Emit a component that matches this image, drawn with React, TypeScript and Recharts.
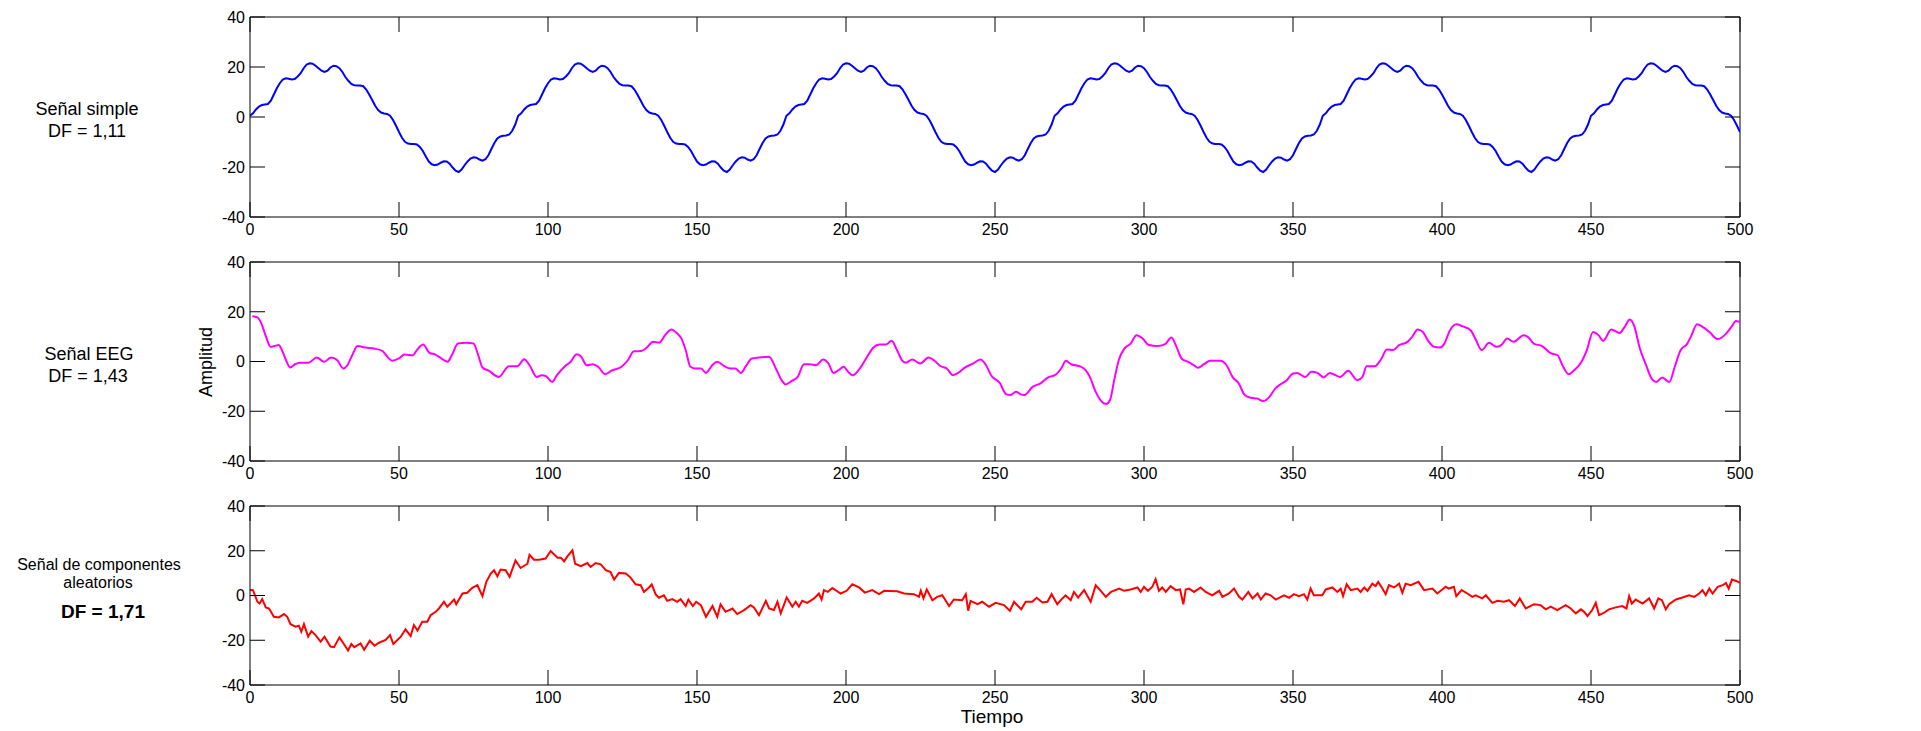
import { LineChart, Line, XAxis, YAxis, ReferenceLine } from 'recharts'

const TIME_TICKS = [0, 50, 100, 150, 200, 250, 300, 350, 400, 450, 500]
const AMP_TICKS = [-40, -20, 0, 20, 40]

// Señal simple: one value per time unit, 0..500 (period of 90 repeats in the picture)
const SIMPLE_SIGNAL = [
  // 0-89
  0.5, 1.5, 3, 4.2, 4.8, 5, 5.2, 6.5, 9, 11.5, 13.5, 15, 15.5, 15.3, 15, 15.2, 16.2, 17.5, 19.5, 21,
  21.5, 21.3, 20.5, 19.5, 18.5, 18, 18.5, 19.8, 20.5, 20.3, 19.5, 18, 16, 14.5, 13.2, 12.7, 12.6, 12.6, 12.3, 11,
  9, 6.8, 4.5, 2.8, 1.8, 1.4, 1.2, 0.5, -1.2, -3.5, -6, -8.3, -9.9, -10.6, -10.8, -10.8, -11, -12, -13.6, -15.8,
  -17.8, -18.9, -19.3, -19, -18.3, -17.7, -17.8, -18.7, -20.2, -21.5, -22, -21, -19.3, -17.8, -16.6, -16.1, -16.3, -17, -17.5, -16.9,
  -15.3, -12.8, -10.4, -8.6, -7.8, -7.5, -7.4, -7, -5.5, -3,
  // 90-179
  0.5, 1.5, 3, 4.2, 4.8, 5, 5.2, 6.5, 9, 11.5, 13.5, 15, 15.5, 15.3, 15, 15.2, 16.2, 17.5, 19.5, 21,
  21.5, 21.3, 20.5, 19.5, 18.5, 18, 18.5, 19.8, 20.5, 20.3, 19.5, 18, 16, 14.5, 13.2, 12.7, 12.6, 12.6, 12.3, 11,
  9, 6.8, 4.5, 2.8, 1.8, 1.4, 1.2, 0.5, -1.2, -3.5, -6, -8.3, -9.9, -10.6, -10.8, -10.8, -11, -12, -13.6, -15.8,
  -17.8, -18.9, -19.3, -19, -18.3, -17.7, -17.8, -18.7, -20.2, -21.5, -22, -21, -19.3, -17.8, -16.6, -16.1, -16.3, -17, -17.5, -16.9,
  -15.3, -12.8, -10.4, -8.6, -7.8, -7.5, -7.4, -7, -5.5, -3,
  // 180-269
  0.5, 1.5, 3, 4.2, 4.8, 5, 5.2, 6.5, 9, 11.5, 13.5, 15, 15.5, 15.3, 15, 15.2, 16.2, 17.5, 19.5, 21,
  21.5, 21.3, 20.5, 19.5, 18.5, 18, 18.5, 19.8, 20.5, 20.3, 19.5, 18, 16, 14.5, 13.2, 12.7, 12.6, 12.6, 12.3, 11,
  9, 6.8, 4.5, 2.8, 1.8, 1.4, 1.2, 0.5, -1.2, -3.5, -6, -8.3, -9.9, -10.6, -10.8, -10.8, -11, -12, -13.6, -15.8,
  -17.8, -18.9, -19.3, -19, -18.3, -17.7, -17.8, -18.7, -20.2, -21.5, -22, -21, -19.3, -17.8, -16.6, -16.1, -16.3, -17, -17.5, -16.9,
  -15.3, -12.8, -10.4, -8.6, -7.8, -7.5, -7.4, -7, -5.5, -3,
  // 270-359
  0.5, 1.5, 3, 4.2, 4.8, 5, 5.2, 6.5, 9, 11.5, 13.5, 15, 15.5, 15.3, 15, 15.2, 16.2, 17.5, 19.5, 21,
  21.5, 21.3, 20.5, 19.5, 18.5, 18, 18.5, 19.8, 20.5, 20.3, 19.5, 18, 16, 14.5, 13.2, 12.7, 12.6, 12.6, 12.3, 11,
  9, 6.8, 4.5, 2.8, 1.8, 1.4, 1.2, 0.5, -1.2, -3.5, -6, -8.3, -9.9, -10.6, -10.8, -10.8, -11, -12, -13.6, -15.8,
  -17.8, -18.9, -19.3, -19, -18.3, -17.7, -17.8, -18.7, -20.2, -21.5, -22, -21, -19.3, -17.8, -16.6, -16.1, -16.3, -17, -17.5, -16.9,
  -15.3, -12.8, -10.4, -8.6, -7.8, -7.5, -7.4, -7, -5.5, -3,
  // 360-449
  0.5, 1.5, 3, 4.2, 4.8, 5, 5.2, 6.5, 9, 11.5, 13.5, 15, 15.5, 15.3, 15, 15.2, 16.2, 17.5, 19.5, 21,
  21.5, 21.3, 20.5, 19.5, 18.5, 18, 18.5, 19.8, 20.5, 20.3, 19.5, 18, 16, 14.5, 13.2, 12.7, 12.6, 12.6, 12.3, 11,
  9, 6.8, 4.5, 2.8, 1.8, 1.4, 1.2, 0.5, -1.2, -3.5, -6, -8.3, -9.9, -10.6, -10.8, -10.8, -11, -12, -13.6, -15.8,
  -17.8, -18.9, -19.3, -19, -18.3, -17.7, -17.8, -18.7, -20.2, -21.5, -22, -21, -19.3, -17.8, -16.6, -16.1, -16.3, -17, -17.5, -16.9,
  -15.3, -12.8, -10.4, -8.6, -7.8, -7.5, -7.4, -7, -5.5, -3,
  // 450-500
  0.5, 1.5, 3, 4.2, 4.8, 5, 5.2, 6.5, 9, 11.5, 13.5, 15, 15.5, 15.3, 15, 15.2, 16.2, 17.5, 19.5, 21,
  21.5, 21.3, 20.5, 19.5, 18.5, 18, 18.5, 19.8, 20.5, 20.3, 19.5, 18, 16, 14.5, 13.2, 12.7, 12.6, 12.6, 12.3, 11,
  9, 6.8, 4.5, 2.8, 1.8, 1.4, 1.2, 0.5, -1.2, -3.5, -6,
]

// Señal EEG: [tiempo, amplitud]
const EEG_SIGNAL: [number, number][] = [
  [0.8, 18.2], [2.5, 17.7], [3.8, 15.3], [5.2, 10.6], [6.9, 5.9], [8.2, 6.2], [9.6, 6.6], [10.7, 4.6], [12.1, 0.5], [13.5, -2.4],
  [15.1, -1.1], [16.9, -0.5], [19.6, -0.5], [22.4, 1.6], [24.9, -0.1], [27.2, 1.6], [29.3, 0.5], [31.3, -2.8], [32.7, -1.5], [34.3, 2.5],
  [36.1, 6.2], [38.9, 5.6], [41.6, 5.2], [44.4, 4.3], [45.7, 2.5], [47.8, 0.3], [49.9, 1.2], [51.9, 2.8], [54.7, 2.5], [56, 4.6],
  [58.1, 6.8], [60.2, 3.5], [62.2, 2.8], [64.3, 1.2], [66.3, -0.1], [67.7, 2.5], [69.8, 7.2], [72.5, 7.5], [75, 7.2], [76.6, 2.5],
  [78, -2.4], [80.1, -3.7], [83.5, -6.2], [86.9, -1.9], [89.7, -1.9], [92, 0.9], [93.8, -1.5], [96.2, -6.2], [97.9, -5.5], [99.3, -5.9],
  [101.4, -8.2], [103, -5.5], [105.5, -2.1], [107.6, -0.1], [109.6, 2.9], [111, 2.1], [113, -1.5], [115.1, -1.1], [116.8, -2.1], [119.2, -5.1],
  [121.3, -3.7], [124.7, -2.1], [126.8, 0.5], [128.8, 4.1], [131.2, 4.2], [133.2, 5.6], [135.2, 7.9], [137.3, 7.6], [139.3, 10.6], [141.4, 12.9],
  [143.4, 11.2], [144.8, 9.2], [146.2, 4.6], [147.8, -2.1], [149.6, -2.8], [151.4, -2.8], [153, -4.6], [155.1, -1.5], [156.8, -0.1], [159.2, -1.9],
  [161.2, -2.8], [162.9, -2.8], [164.7, -4.6], [166.4, -1.9], [168.4, 1.2], [170.8, 1.6], [174.2, 1.9], [176.3, -2.4], [178.4, -7.5], [179.7, -9.2],
  [181.8, -7.8], [183.8, -6.2], [185.9, -1.1], [187.9, -1.1], [190, -1.5], [192.3, 0.8], [194.1, -0.8], [195.8, -4.6], [197.5, -3.5], [199.2, -2.1],
  [200.7, -4.1], [202.3, -5.5], [204.4, -3.2], [207.1, 1.9], [209.2, 5.6], [211.2, 6.8], [213.3, 6.8], [215.3, 8.3], [217.1, 4.6], [218.8, 0.5],
  [220.1, -0.5], [222.2, 0.8], [224.9, -0.8], [227.7, 1.6], [229.7, 0.3], [231.8, -1.9], [233.8, -2.8], [235.9, -5.5], [237.3, -4.8], [240, -2.4],
  [242.7, -0.8], [245.1, 0.8], [246.8, -1.1], [248.9, -5.9], [251.6, -8.6], [253.7, -13.1], [255.1, -13.5], [257.1, -12.2], [258.5, -13.1], [259.9, -13.5],
  [262.6, -10.2], [265.3, -8.8], [268.1, -6.2], [270.1, -5.5], [272.2, -2.8], [273.8, 0.3], [275.6, -1.1], [278.4, -1.9], [280.4, -3.5], [281.8, -6.2],
  [283.8, -12.2], [285.6, -15.8], [287.3, -17.1], [288.6, -15.5], [290, -7.5], [291.6, 0.8], [293.4, 5.2], [295.5, 7.2], [297.5, 10.6], [299.6, 9.2],
  [301.6, 6.6], [304.4, 6.2], [307.1, 7], [309.2, 9.6], [310.8, 6.2], [312.6, 1.2], [314.7, -0.1], [316.7, -1.5], [318.1, -2.5], [320.1, -1.1],
  [322.2, 0.3], [325.6, 0.3], [327.7, -1.5], [329.7, -6.2], [331.8, -8.8], [333.8, -13.5], [335.9, -14.6], [338, -14.9], [340, -15.9], [342.1, -14.2],
  [344.1, -10.8], [345.9, -9.1], [347.9, -7.5], [350, -4.8], [351.4, -4.6], [354.1, -6.2], [356.2, -4.1], [358.2, -4.6], [360.3, -6.4], [362.3, -4.6],
  [365.8, -6.2], [368.5, -3.7], [371.6, -7.5], [373.3, -6.2], [374.7, -1.9], [377.4, -1.9], [379.5, 0.8], [381.5, 4.8], [383.6, 4.6], [385.6, 6.6],
  [388.4, 7.9], [390, 9.9], [391.8, 12.9], [393.6, 11.9], [395.2, 8.6], [397.3, 5.9], [399.3, 5.6], [400.7, 7], [402.7, 12.6], [404.8, 15],
  [406.8, 14.2], [409.6, 12.6], [411.4, 8.6], [413.3, 4.6], [415.8, 7.5], [418.2, 5.9], [419.9, 6.6], [421.9, 9.2], [424, 7.9], [427.4, 10.6],
  [428.8, 9.9], [430.8, 7.2], [433.6, 6.2], [436.3, 3.5], [438.8, 2.5], [440.4, -1.5], [442.5, -5.1], [444.2, -3.7], [446.6, -0.5], [448.6, 4.6],
  [450.7, 11.9], [452.5, 10.6], [454.1, 8.3], [456.8, 12.9], [459.6, 11.5], [461.2, 13.7], [463, 16.9], [464.4, 14.6], [466.4, 5.2], [468.5, -1.5],
  [470.5, -7.2], [471.9, -8.2], [473.9, -6.4], [476.3, -8.2], [478.1, -2.1], [480.1, 4.6], [482.2, 7], [483.6, 10.2], [485.6, 15], [487.7, 13.7],
  [489.7, 11.9], [492.5, 9], [495.2, 11], [497.3, 14.2], [498.6, 16.3], [500, 15.9],
]

// Señal de componentes aleatorios: [tiempo, amplitud]
const RANDOM_SIGNAL: [number, number][] = [
  [0, 2.5], [1, 2.4], [2.5, -2.8], [3.2, -3.6], [4.1, -1.6], [5.3, -5.3], [6.4, -5.8], [8, -9.5], [9.7, -9.8], [11.4, -8.3],
  [12.5, -9.5], [13.6, -12.8], [15.3, -13.9], [16.4, -13.5], [17.2, -16.2], [18.1, -12.8], [19.5, -18.4], [20.6, -15.9], [22, -17.7], [23.7, -20.6],
  [25, -18.4], [27, -22.8], [28.2, -23.1], [30, -18.7], [31.5, -21.7], [32.9, -24.6], [34, -21.7], [35, -23.1], [37.1, -21.4], [38.3, -24.3],
  [40.2, -20.2], [41.8, -22.4], [43.3, -21.1], [45.5, -19.9], [47, -17.7], [48.1, -21.7], [50.6, -18.4], [52.2, -15.1], [53.9, -18.1], [55, -13.2],
  [56.2, -15.7], [57.8, -11.7], [59.5, -11.7], [60.6, -8.8], [62.3, -7.3], [63.4, -5.8], [65.1, -2.8], [66.2, -5], [68.5, -1.8], [69.2, -3.9],
  [71.3, 0.9], [72.9, 1.2], [74.6, 3.4], [76.3, 4.6], [78, -0.3], [79.3, 6.1], [80.8, 9.8], [81.9, 11.3], [83, 8.6], [84.1, 11.6],
  [85.8, 11.3], [87.1, 8.3], [89.1, 15.7], [90.8, 12.3], [93.1, 14.2], [93.8, 18.2], [95.3, 16], [97, 16], [99.2, 16.5], [100.9, 19.9],
  [103.2, 16.9], [104.3, 16.9], [105.4, 15.3], [106.5, 17.5], [108.2, 20.2], [109.1, 14.2], [111, 13.1], [113.2, 14.5], [114.3, 12.8], [116, 14.5],
  [117.7, 13.9], [119.4, 11.3], [121, 10.5], [122.2, 7.1], [123.8, 10.1], [126.1, 9.8], [127.7, 8], [129.4, 5], [131.1, 4.6], [132.2, 1.6],
  [133.9, 3.6], [134.8, 5], [136.1, 0.6], [137.2, -1], [138.9, 0.1], [140, -2.4], [141.7, -1.6], [143.4, -2.8], [144.5, -1.6], [146.2, -4.7],
  [147.1, -1.8], [148.6, -4.7], [149.7, -2.8], [151.3, -4.3], [153, -9.5], [155.2, -4.7], [156.8, -9.5], [157.9, -4], [159.6, -7.3], [161.9, -5.8],
  [163.5, -8.3], [165.8, -6.5], [168, -4.3], [169.1, -5.3], [170.8, -8.8], [173.1, -2.4], [174.2, -5.8], [175.8, -6.5], [177, -2.8], [178.1, -8],
  [180.1, -0.9], [182, -5], [183.1, -2.8], [184.2, -5], [185.3, -2.4], [187, -3.3], [189.3, -1.3], [190.9, 0.9], [191.8, -1.8], [192.6, 2.4],
  [193.9, 1.6], [195.4, 3.4], [198.2, 0.9], [200.2, 2.1], [202.1, 5], [204.4, 3.6], [206.3, 1.3], [208.8, 2.4], [211.1, 0.6], [212.8, 2.1],
  [217.2, 1.9], [219.5, 0.9], [222.8, 0.6], [224.5, -0.6], [225.1, 2.1], [226, -1.3], [227.1, 2.7], [229, -2.1], [230.6, -0.6], [232.3, 0.1],
  [234.6, -4.7], [236.2, -1.8], [239, -2.1], [240.2, 0.6], [241, -6.8], [241.8, -2.4], [244.1, -3.9], [245.7, -2.8], [248, -5], [250.2, -3.3],
  [253, -4.3], [255, -6.8], [256.4, -2.8], [258.8, -6.2], [260.3, -2.8], [262.5, -2.8], [264, -1], [265.9, -3.1], [267.6, -2.8], [269, 0.6],
  [270.9, -3.9], [272.6, -1.3], [273.7, 0.1], [275.4, -2.1], [276.5, 1.6], [277.9, -0.9], [279.9, 2.4], [282.1, -2.8], [283.8, 4.6], [285.5, 2.1],
  [287.2, -0.6], [288.9, 1.6], [291.7, 3.1], [293.3, 2.1], [295.5, 2.7], [297.8, 3.6], [298.9, 1.6], [300, 3.9], [301.3, 2.1], [302.8, 3.9],
  [303.9, 7.3], [305, 2.1], [306.1, 3.6], [307.3, 1.6], [308.9, 4.2], [310.7, 2.4], [312.1, 2.7], [313.2, -3.9], [314, 2.7], [315.1, 3.1],
  [316.8, 1.6], [319, 3.6], [320.7, 1.6], [322.9, 0.1], [325.2, 2.1], [326.3, -0.6], [328.5, 0.9], [330.2, 3.1], [331.9, -0.6], [333, -1.8],
  [335, 1.6], [336.4, -1.3], [338.1, 0.9], [339.2, -1.8], [340.8, 0.9], [342.5, 0.1], [344.2, -1.8], [347, 0.1], [348.7, -1], [350.3, 0.6],
  [352, -0.3], [353.7, 0.6], [354.8, -1.8], [355.9, 3.1], [357, 0.1], [359.8, 0.1], [361, 2.7], [363.2, 3.6], [364.9, 1.6], [366, 3.1],
  [366.8, -0.3], [368, 5], [369.4, 2.4], [371.6, 3.1], [372.7, 1.6], [373.9, 3.6], [375, 2.1], [376.6, 5.3], [377.7, 4.2], [378.6, 6.1],
  [380, 3.1], [381.1, 0.6], [382.2, 4.6], [383.9, 3.6], [385.6, 5.3], [386.7, 1.2], [387.8, 5.3], [389.5, 4.6], [392.1, 6.1], [394, 2.4],
  [396.8, 3.1], [398.4, 0.9], [400.1, 2.7], [401.2, 3.9], [402.3, 3.1], [404, 3.9], [404.8, -0.3], [406.6, 2.4], [408.5, 0.9], [410.2, -0.6],
  [411.3, 0.1], [413.5, -1.3], [414.7, 0.1], [416.9, -3.3], [418.6, -2.4], [420.8, -2.8], [422.5, -2.1], [424.5, -4.7], [426.1, -1.3], [428.1, -5.8],
  [430.9, -3.9], [433.1, -4.3], [434.8, -6.2], [436.5, -5], [438.7, -6.5], [441.5, -4.3], [443.2, -5.8], [444.9, -8], [446.6, -6.2], [447.7, -7.3],
  [448.8, -9.2], [450.4, -6.5], [451.6, -3.3], [452.7, -8.8], [454.4, -7.7], [456, -6.2], [458.3, -5.3], [460.5, -4.7], [461.9, -5.8], [462.8, -0.3],
  [463.7, -3.6], [465, -1.8], [467.3, -3.6], [469.5, -1.3], [471.2, -5.8], [472.6, -1.3], [473.8, -2.1], [475.1, -6.2], [476.2, -3.9], [478.5, -1.8],
  [480.7, -0.9], [482.9, 0.1], [484.6, -0.6], [486.3, 0.9], [487.4, 2.4], [488.5, 0.1], [489.7, 3.1], [490.8, 0.9], [492.5, 3.9], [494.2, 4.6],
  [495.3, 5.6], [496.2, 3.1], [497.3, 7.1], [498.7, 6.5], [500, 5.6],
]

const FONT = '"Liberation Sans", Arial, Helvetica, sans-serif'
const TICK_STYLE = { fill: '#000', fontSize: 16, fontFamily: FONT }
const PLOT_WIDTH = 1490
const TICK_LEN = 15

type Pt = { t: number; v: number }

const simpleData: Pt[] = SIMPLE_SIGNAL.map((v, i) => ({ t: i, v }))
const eegData: Pt[] = EEG_SIGNAL.map(([t, v]) => ({ t, v }))
const randomData: Pt[] = RANDOM_SIGNAL.map(([t, v]) => ({ t, v }))

// inward ticks on bottom + top edge, label below
const timeTick = (plotHeight: number) => (props: any) => {
  const { x, y, payload } = props
  return (
    <g>
      <line x1={x} y1={y} x2={x} y2={y - TICK_LEN} stroke="#000" />
      <line x1={x} y1={y - plotHeight} x2={x} y2={y - plotHeight + TICK_LEN} stroke="#000" />
      <text x={x} y={y + 7} dy="0.71em" textAnchor="middle" {...TICK_STYLE}>{payload.value}</text>
    </g>
  )
}

// inward ticks on left + right edge, label at left
const ampTick = (props: any) => {
  const { x, y, payload } = props
  return (
    <g>
      <line x1={x} y1={y} x2={x + TICK_LEN} y2={y} stroke="#000" />
      <line x1={x + PLOT_WIDTH} y1={y} x2={x + PLOT_WIDTH - TICK_LEN} y2={y} stroke="#000" />
      <text x={x - 5} y={y} dy="0.36em" textAnchor="end" {...TICK_STYLE}>{payload.value}</text>
    </g>
  )
}

function SignalPanel({ top, height, data, color, curve }: { top: number; height: number; data: Pt[]; color: string; curve: 'linear' | 'monotone' }) {
  const marginTop = 15
  const plotHeight = height - marginTop - 30
  return (
    <div style={{ position: 'absolute', left: 0, top }}>
      <LineChart width={1921} height={height} data={data} margin={{ top: marginTop, right: 181, bottom: 0, left: 0 }}>
        <XAxis xAxisId="b" dataKey="t" type="number" domain={[0, 500]} ticks={TIME_TICKS} interval={0}
          allowDataOverflow height={30} stroke="#000" tickLine={false} tickSize={0} tickMargin={0} tick={timeTick(plotHeight)} />
        <YAxis yAxisId="l" type="number" domain={[-40, 40]} ticks={AMP_TICKS} interval={0}
          allowDataOverflow width={250} stroke="#000" tickLine={false} tickSize={0} tickMargin={0} tick={ampTick} />
        <ReferenceLine xAxisId="b" yAxisId="l" y={40} stroke="#000" />
        <ReferenceLine xAxisId="b" yAxisId="l" x={500} stroke="#000" />
        <Line xAxisId="b" yAxisId="l" type={curve} dataKey="v" stroke={color} strokeWidth={2}
          dot={false} activeDot={false} isAnimationActive={false} />
      </LineChart>
    </div>
  )
}

export default function App() {
  return (
    <div style={{ position: 'absolute', left: 0, top: 0, width: 1921, height: 731, background: '#fff', fontFamily: FONT }}>
      <SignalPanel top={2} height={245} data={simpleData} color="#0000ff" curve="linear" />
      <SignalPanel top={247} height={244} data={eegData} color="#ff00ff" curve="monotone" />
      <SignalPanel top={491} height={224} data={randomData} color="#ff0000" curve="linear" />
      <svg width={1921} height={731} style={{ position: 'absolute', left: 0, top: 0, pointerEvents: 'none' }}
        fontFamily={FONT} fill="#000">
        <text x={87} y={115} textAnchor="middle" fontSize={18}>Señal simple</text>
        <text x={87} y={137} textAnchor="middle" fontSize={18}>DF = 1,11</text>
        <text x={89} y={360} textAnchor="middle" fontSize={18}>Señal EEG</text>
        <text x={88} y={382} textAnchor="middle" fontSize={18}>DF = 1,43</text>
        <text x={99} y={570} textAnchor="middle" fontSize={16}>Señal de componentes</text>
        <text x={98} y={588} textAnchor="middle" fontSize={16}>aleatorios</text>
        <text x={103} y={618} textAnchor="middle" fontSize={19} fontWeight="bold">DF = 1,71</text>
        <text transform="translate(212,362) rotate(-90)" textAnchor="middle" fontSize={18}>Amplitud</text>
        <text x={992} y={723} textAnchor="middle" fontSize={19}>Tiempo</text>
      </svg>
    </div>
  )
}
